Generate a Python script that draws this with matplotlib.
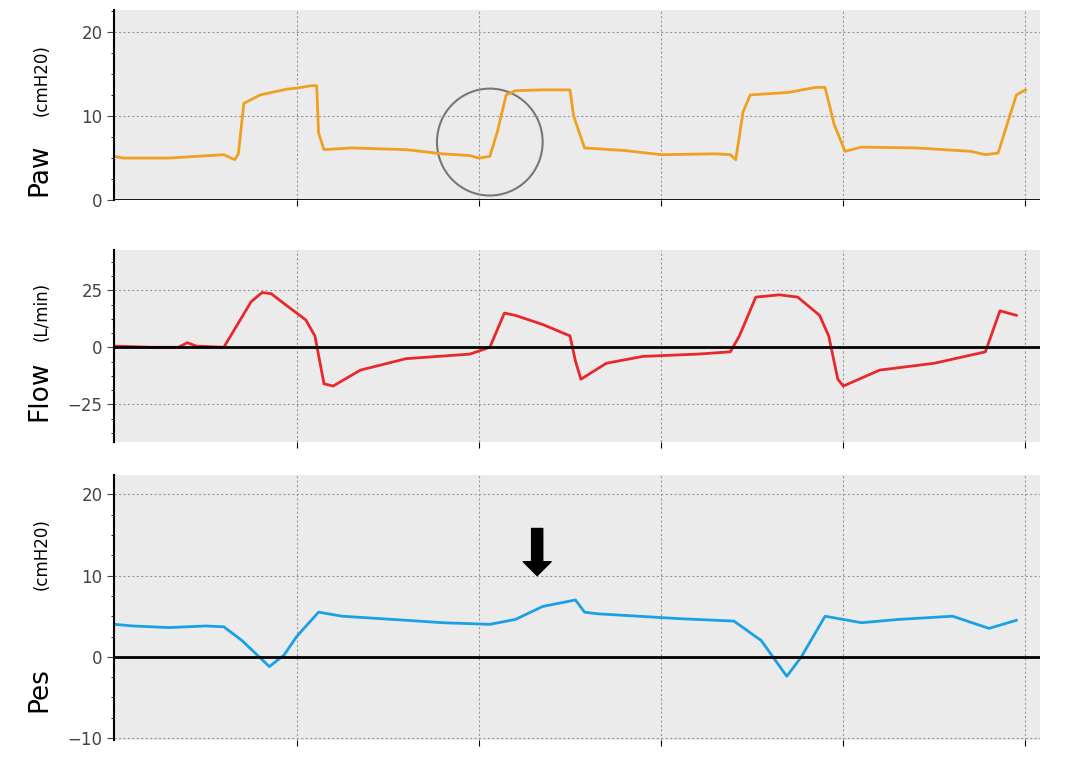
import matplotlib.pyplot as plt
from matplotlib.patches import Ellipse
from matplotlib.ticker import MultipleLocator

# time axis in grid units (one dashed gridline per unit)
paw_t = [0, 0.05, 0.3, 0.6, 0.66, 0.68, 0.71, 0.8, 0.95, 1.0, 1.08, 1.11, 1.12, 1.15, 1.3, 1.6, 1.8, 1.95, 2.0, 2.06,
         2.1, 2.15, 2.2, 2.35, 2.5, 2.52, 2.58, 2.8, 3.0, 3.3, 3.38, 3.41, 3.45, 3.49, 3.7, 3.85, 3.9, 3.95, 4.01, 4.1,
         4.4, 4.7, 4.78, 4.85, 4.95, 5.0]
paw_v = [5.2, 5.0, 5.0, 5.4, 4.8, 5.5, 11.5, 12.5, 13.2, 13.3, 13.6, 13.6, 8, 6.0, 6.2, 6.0, 5.5, 5.3, 5.0, 5.2,
         8, 12.5, 13.0, 13.1, 13.1, 10, 6.2, 5.9, 5.4, 5.5, 5.4, 4.8, 10.5, 12.5, 12.8, 13.4, 13.4, 9, 5.8, 6.3,
         6.2, 5.8, 5.4, 5.6, 12.5, 13.1]

flow_t = [0, 0.2, 0.35, 0.4, 0.45, 0.6, 0.66, 0.75, 0.81, 0.86, 0.95, 1.05, 1.1, 1.15, 1.2, 1.35, 1.6, 1.95, 2.06,
          2.14, 2.2, 2.35, 2.5, 2.53, 2.56, 2.7, 2.9, 3.2, 3.38, 3.43, 3.52, 3.65, 3.75, 3.87, 3.92, 3.97, 4.0,
          4.2, 4.5, 4.78, 4.86, 4.95]
flow_v = [0.5, 0, 0, 2, 0.5, 0, 8, 20, 24, 23.5, 18, 12, 5, -16, -17, -10, -5, -3, 0,
          15, 14, 10, 5, -6, -14, -7, -4, -3, -2, 5, 22, 23, 22, 14, 5, -14, -17,
          -10, -7, -2, 16, 14]

pes_t = [0, 0.1, 0.3, 0.5, 0.6, 0.7, 0.85, 0.93, 1.0, 1.12, 1.25, 1.6, 1.8, 2.06, 2.2, 2.35, 2.53, 2.58, 2.65,
         3.1, 3.4, 3.55, 3.69, 3.77, 3.9, 4.1, 4.3, 4.6, 4.8, 4.95]
pes_v = [4.0, 3.8, 3.6, 3.8, 3.7, 2.0, -1.2, 0.2, 2.5, 5.5, 5.0, 4.5, 4.2, 4.0, 4.6, 6.2, 7.0, 5.5, 5.3,
         4.7, 4.4, 2.0, -2.4, 0.0, 5.0, 4.2, 4.6, 5.0, 3.5, 4.5]

fig = plt.figure(figsize=(10.8, 7.61), dpi=100)
axes = [fig.add_axes([0.106, 0.737, 0.857, 0.25]),
        fig.add_axes([0.106, 0.419, 0.857, 0.252]),
        fig.add_axes([0.106, 0.028, 0.857, 0.348])]

specs = [(paw_t, paw_v, '#f0a020', (0, 22.6), [0, 10, 20], 'Paw', '(cmH20)', 0.16, 0.63),
         (flow_t, flow_v, '#e8282a', (-41.6, 42.5), [-25, 0, 25], 'Flow', '(L/min)', 0.27, 0.68),
         (pes_t, pes_v, '#1aa0e6', (-10.2, 22.4), [-10, 0, 10, 20], 'Pes', '(cmH20)', 0.19, 0.70)]

for ax, (t, v, c, yl, ticks, name, unit, ny, uy) in zip(axes, specs):
    ax.set_facecolor('#ebebeb')
    ax.plot(t, v, color=c, lw=2)
    ax.set_xlim(0, 5.08)
    ax.set_ylim(*yl)
    ax.set_yticks(ticks)
    ax.yaxis.set_minor_locator(MultipleLocator(2.5 if name != 'Flow' else 6.25))
    ax.set_xticks([1, 2, 3, 4, 5])
    ax.set_xticklabels([])
    ax.tick_params(axis='y', colors='#444444', labelsize=12, length=5)
    ax.tick_params(axis='x', length=4)
    ax.grid(True, color='#999999', ls=(0, (2, 2)), lw=0.8)
    for s in ['top', 'right', 'bottom']:
        ax.spines[s].set_visible(False)
    ax.spines['left'].set_linewidth(1.5)
    ax.axhline(0, color='black', lw=2)
    ax.text(-0.081, ny, name, transform=ax.transAxes, rotation=90, va='center', ha='center', fontsize=19)
    ax.text(-0.079, uy, unit, transform=ax.transAxes, rotation=90, va='center', ha='center', fontsize=12)

axes[0].add_patch(Ellipse((2.06, 6.9), 0.58, 12.7, fill=False, ec='#777777', lw=1.5))
axes[2].annotate('', xy=(2.32, 10), xytext=(2.32, 15.8),
                 arrowprops=dict(facecolor='black', edgecolor='black', width=8, headwidth=20, headlength=10))

fig.savefig('out.png')
